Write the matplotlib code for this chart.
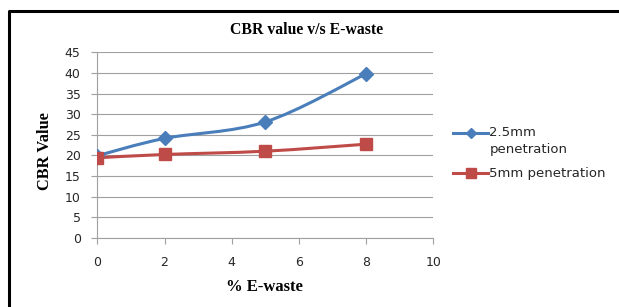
import numpy as np
import matplotlib.pyplot as plt
from matplotlib.path import Path
from matplotlib.patches import PathPatch
from matplotlib.lines import Line2D

ewaste = [0, 2, 5, 8]
cbr_25 = [19.9, 24.1, 28.1, 39.8]
cbr_50 = [19.4, 20.2, 21.0, 22.7]
labels = ['2.5mm\npenetration', '5mm penetration']

blue = '#4A7EBB'
red = '#BE4B48'
sans = 'DejaVu Sans'
serif = 'Liberation Serif'
txt = '#262626'


def smooth_path(x, y):
    # excel-like smoothed line: catmull-rom as cubic bezier segments
    p = np.column_stack([x, y]).astype(float)
    verts = [p[0]]
    codes = [Path.MOVETO]
    n = len(p)
    for i in range(n - 1):
        p0 = p[max(i - 1, 0)]
        p1 = p[i]
        p2 = p[i + 1]
        p3 = p[min(i + 2, n - 1)]
        c1 = p1 + (p2 - p0) / 6
        c2 = p2 - (p3 - p1) / 6
        verts += [c1, c2, p2]
        codes += [Path.CURVE4] * 3
    return Path(verts, codes)


fig = plt.figure(figsize=(6.19, 3.07), dpi=100)
ax = fig.add_axes([0.1572, 0.2257, 0.5428, 0.6039])

for xs, ys, col, mk, ms in [(ewaste, cbr_25, blue, 'D', 7),
                             (ewaste, cbr_50, red, 's', 8.5)]:
    ax.add_patch(PathPatch(smooth_path(xs, ys), fill=False, edgecolor=col,
                           lw=2.2, zorder=3))
    ax.plot(xs, ys, linestyle='none', marker=mk, ms=ms, color=col, zorder=4)

ax.set_xlim(0, 10)
ax.set_ylim(0, 45)
ax.set_xticks(range(0, 11, 2))
ax.set_yticks(range(0, 46, 5))
ax.grid(axis='y', color='#a0a0a0', lw=0.8)
ax.set_axisbelow(True)
for s in ['top', 'right']:
    ax.spines[s].set_visible(False)
for s in ['left', 'bottom']:
    ax.spines[s].set_color('#a0a0a0')
ax.tick_params(length=4, color='#a0a0a0', labelsize=9, labelcolor=txt)
ax.tick_params(axis='x', pad=9)
ax.tick_params(axis='y', pad=8)
for t in ax.get_xticklabels() + ax.get_yticklabels():
    t.set_fontfamily(sans)

fig.text(0.496, 0.902, 'CBR value v/s E-waste', family=serif, weight='bold',
         fontsize=11.3, ha='center', va='center')
fig.text(0.428, 0.066, '% E-waste', family=serif, weight='bold',
         fontsize=12, ha='center', va='center')
fig.text(0.0727, 0.508, 'CBR Value', family=serif, weight='bold',
         fontsize=11.8, ha='center', va='center', rotation=90)

# legend drawn by hand so the handle sits on the first text line
for ly, col, mk, ms, lab in [(0.568, blue, 'D', 5, labels[0]),
                             (0.4355, red, 's', 7.5, labels[1])]:
    fig.add_artist(Line2D([0.7318, 0.7879], [ly, ly], color=col, lw=2.2,
                          transform=fig.transFigure))
    fig.add_artist(Line2D([0.7601], [ly], color=col, marker=mk, ms=ms,
                          transform=fig.transFigure))
    for k, line in enumerate(lab.split('\n')):
        fig.text(0.7905, ly - k * 0.054, line, family=sans, fontsize=9.5,
                 ha='left', va='center', color=txt)

# black frame on left/top edges as in the scanned figure
fig.add_artist(Line2D([0.0145, 0.0145, 1.0], [0.0, 0.965, 0.965], color='black',
                      lw=2.2, transform=fig.transFigure))

fig.savefig('out.png', dpi=100)
